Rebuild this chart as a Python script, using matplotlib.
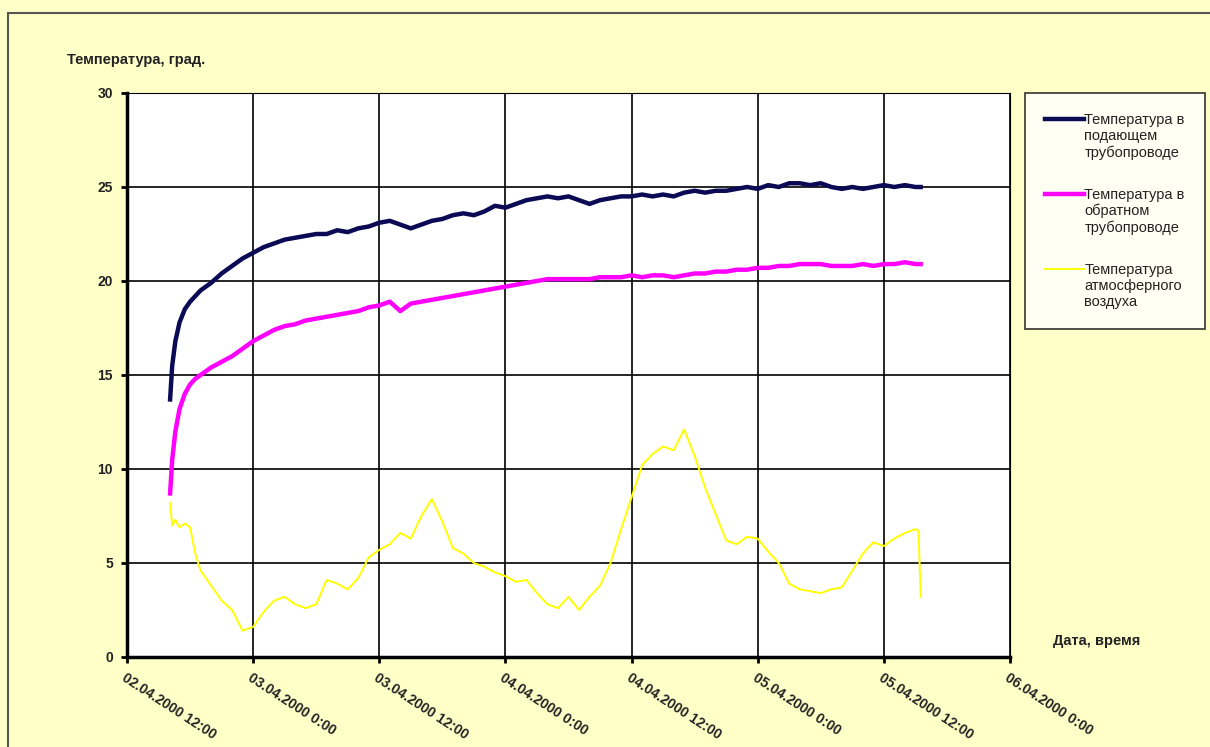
import numpy as np
import pandas as pd
import matplotlib
matplotlib.use('Agg')
import matplotlib.pyplot as plt
from matplotlib.patches import Rectangle
from matplotlib.legend_handler import HandlerLine2D

plt.rcParams['font.family'] = ['Liberation Sans', 'DejaVu Sans']

# hours after 02.04.2000 12:00
hours = [4.1, 4.3, 4.6, 5.0, 5.5, 6.0, 6.5] + list(range(7, 76)) + [75.3, 75.5]

supply = [13.7, 15.5, 16.8, 17.8, 18.5, 18.9, 19.2,
          19.5, 19.9, 20.4, 20.8, 21.2, 21.5, 21.8, 22.0, 22.2, 22.3,
          22.4, 22.5, 22.5, 22.7, 22.6, 22.8, 22.9, 23.1, 23.2, 23.0,
          22.8, 23.0, 23.2, 23.3, 23.5, 23.6, 23.5, 23.7, 24.0, 23.9,
          24.1, 24.3, 24.4, 24.5, 24.4, 24.5, 24.3, 24.1, 24.3, 24.4,
          24.5, 24.5, 24.6, 24.5, 24.6, 24.5, 24.7, 24.8, 24.7, 24.8,
          24.8, 24.9, 25.0, 24.9, 25.1, 25.0, 25.2, 25.2, 25.1, 25.2,
          25.0, 24.9, 25.0, 24.9, 25.0, 25.1, 25.0, 25.1, 25.0,
          25.0, 25.0]

ret = [8.7, 10.5, 12.0, 13.2, 14.0, 14.5, 14.8,
       15.0, 15.4, 15.7, 16.0, 16.4, 16.8, 17.1, 17.4, 17.6, 17.7,
       17.9, 18.0, 18.1, 18.2, 18.3, 18.4, 18.6, 18.7, 18.9, 18.4,
       18.8, 18.9, 19.0, 19.1, 19.2, 19.3, 19.4, 19.5, 19.6, 19.7,
       19.8, 19.9, 20.0, 20.1, 20.1, 20.1, 20.1, 20.1, 20.2, 20.2,
       20.2, 20.3, 20.2, 20.3, 20.3, 20.2, 20.3, 20.4, 20.4, 20.5,
       20.5, 20.6, 20.6, 20.7, 20.7, 20.8, 20.8, 20.9, 20.9, 20.9,
       20.8, 20.8, 20.8, 20.9, 20.8, 20.9, 20.9, 21.0, 20.9,
       20.9, 20.9]

air = [8.2, 7.0, 7.3, 6.9, 7.1, 6.9, 5.5,
       4.6, 3.8, 3.0, 2.5, 1.4, 1.6, 2.4, 3.0, 3.2, 2.8,
       2.6, 2.8, 4.1, 3.9, 3.6, 4.2, 5.3, 5.7, 6.0, 6.6,
       6.3, 7.5, 8.4, 7.2, 5.8, 5.5, 5.0, 4.8, 4.5, 4.3,
       4.0, 4.1, 3.4, 2.8, 2.6, 3.2, 2.5, 3.2, 3.8, 5.0,
       6.8, 8.5, 10.2, 10.8, 11.2, 11.0, 12.1, 10.7, 9.0, 7.6,
       6.2, 6.0, 6.4, 6.3, 5.6, 5.0, 3.9, 3.6, 3.5, 3.4,
       3.6, 3.7, 4.6, 5.5, 6.1, 5.9, 6.3, 6.6, 6.8,
       6.7, 3.2]

labels = ['Температура в\nподающем\nтрубопроводе',
          'Температура в\nобратном\nтрубопроводе',
          'Температура\nатмосферного\nвоздуха']


class FirstLineHandler(HandlerLine2D):
    # put the legend line next to the first text line, like Excel does
    def create_artists(self, legend, orig_handle, xdescent, ydescent,
                       width, height, fontsize, trans):
        arts = super().create_artists(legend, orig_handle, xdescent, ydescent,
                                      width, height, fontsize, trans)
        for a in arts:
            a.set_ydata(np.asarray(a.get_ydata()) + fontsize * 1.2)
        return arts


start = pd.Timestamp('2000-04-02 12:00')
end = pd.Timestamp('2000-04-06 00:00')
t = start + pd.to_timedelta(hours, unit='h')

bg = '#FFFFC8'
fig = plt.figure(figsize=(12.1, 7.47), dpi=100, facecolor=bg)
fig.patches.append(Rectangle((8 / 1210, -0.05), 1.2, 1 - 13 / 747 + 0.05,
                             transform=fig.transFigure, fill=False,
                             edgecolor='#555555', linewidth=1.5))
ax = fig.add_axes([127 / 1210, 1 - 657 / 747, (1010 - 127) / 1210, (657 - 93) / 747])

ax.plot(t, supply, color='#0A0A55', linewidth=3.2, label=labels[0])
ax.plot(t, ret, color='#FF00FF', linewidth=3.2, label=labels[1])
ax.plot(t, air, color='#FFFF00', linewidth=1.4, label=labels[2])

ax.set_xlim(start, end)
ax.set_ylim(0, 30)
ax.set_yticks(range(0, 31, 5))
xt = pd.date_range(start, end, freq='12h')
ax.set_xticks(xt)
ax.set_xticklabels([f'{d:%d.%m.%Y} {d.hour}:{d:%M}' for d in xt],
                   rotation=-33, ha='left', va='top', rotation_mode='anchor')
ax.tick_params(axis='both', labelsize=10, length=4, width=2, direction='out', pad=6)
for lab in ax.get_xticklabels() + ax.get_yticklabels():
    lab.set_fontweight('bold')
    lab.set_color('#222222')
ax.grid(True, color='black', linewidth=1.2)
ax.set_axisbelow(True)
for s in ['top', 'right']:
    ax.spines[s].set_linewidth(0.8)
for s in ['left', 'bottom']:
    ax.spines[s].set_linewidth(2.5)

fig.text(67 / 1210, 1 - 60 / 747, 'Температура, град.', fontsize=10.5,
         fontweight='bold', color='#222222', va='center')
fig.text(1053 / 1210, 1 - 641 / 747, 'Дата, время', fontsize=10.5,
         fontweight='bold', color='#222222', va='center')

leg = fig.legend(loc='upper left', bbox_to_anchor=(1025 / 1210, 1 - 93 / 747),
                 fontsize=10.5, frameon=True, fancybox=False, edgecolor='black',
                 handlelength=2.7, handletextpad=0.0, labelspacing=1.9,
                 borderpad=1.37, borderaxespad=0,
                 handler_map={matplotlib.lines.Line2D: FirstLineHandler()})
leg.get_frame().set_linewidth(1.2)
for txt in leg.get_texts():
    txt.set_color('#222222')

fig.savefig('out.png', dpi=100, facecolor=bg)
